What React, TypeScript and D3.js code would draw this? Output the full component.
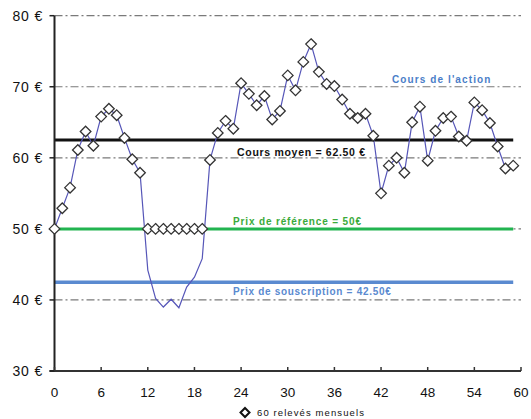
import React from "react";
import * as d3 from "d3";

// Cours de l'action (ligne)
const coursAction: number[] = [
  50, 52.9, 55.8, 61.1, 63.7, 61.7, 65.8, 66.9, 66.0, 62.8,
  59.8, 57.9, 44.2, 40.2, 39.0, 40.1, 38.9, 41.8, 43.2, 45.8,
  59.7, 63.5, 65.2, 64.1, 70.5, 69.0, 67.4, 68.7, 65.4, 66.6,
  71.6, 69.5, 73.5, 76.0, 72.1, 70.4, 70.1, 68.2, 66.2, 65.6,
  66.2, 63.1, 55.0, 58.9, 60.0, 57.9, 65.0, 67.2, 59.6, 63.8,
  65.6, 65.8, 63.0, 62.4, 67.8, 66.7, 64.9, 61.6, 58.5, 58.9,
];
// 60 relevés mensuels (losanges)
const releves: number[] = [
  50, 52.9, 55.8, 61.1, 63.7, 61.7, 65.8, 66.9, 66.0, 62.8,
  59.8, 57.9, 50, 50, 50, 50, 50, 50, 50, 50,
  59.7, 63.5, 65.2, 64.1, 70.5, 69.0, 67.4, 68.7, 65.4, 66.6,
  71.6, 69.5, 73.5, 76.0, 72.1, 70.4, 70.1, 68.2, 66.2, 65.6,
  66.2, 63.1, 55.0, 58.9, 60.0, 57.9, 65.0, 67.2, 59.6, 63.8,
  65.6, 65.8, 63.0, 62.4, 67.8, 66.7, 64.9, 61.6, 58.5, 58.9,
];
const coursMoyen = 62.5;
const prixReference = 50;
const prixSouscription = 42.5;
const yTicks = [30, 40, 50, 60, 70, 80];
const xTicks = [0, 6, 12, 18, 24, 30, 36, 42, 48, 54, 60];
const gridValues = [40, 50, 60, 70, 80];

const W = 531;
const H = 419;

export default function App() {
  const x = d3.scaleLinear().domain([0, 60]).range([54.5, 521]);
  const y = d3.scaleLinear().domain([30, 80]).range([371, 15.7]);
  const line = d3
    .line<number>()
    .x((_, i) => x(i))
    .y((d) => y(d));
  const lastIdx = coursAction.length - 1;
  const diamond = (cx: number, cy: number, r: number) =>
    `M${cx},${cy - r}L${cx + r},${cy}L${cx},${cy + r}L${cx - r},${cy}Z`;
  const font = "Arial, 'Liberation Sans', sans-serif";

  return (
    <svg
      width={W}
      height={H}
      style={{ position: "absolute", left: 0, top: 0, background: "#fff" }}
      fontFamily={font}
    >
      {/* grid */}
      {gridValues.map((v) => (
        <line
          key={"g" + v}
          x1={x(0)}
          x2={x(60)}
          y1={y(v)}
          y2={y(v)}
          stroke="#7a7a7a"
          strokeWidth={1.2}
          strokeDasharray="8,3,2,3"
        />
      ))}
      {/* reference lines */}
      <line x1={x(0)} x2={x(lastIdx)} y1={y(prixSouscription)} y2={y(prixSouscription)} stroke="#5a8ad0" strokeWidth={3.5} />
      <line x1={x(0)} x2={x(lastIdx)} y1={y(prixReference)} y2={y(prixReference)} stroke="#22b450" strokeWidth={3} />
      <line x1={x(0)} x2={x(lastIdx)} y1={y(coursMoyen)} y2={y(coursMoyen)} stroke="#111" strokeWidth={3} />

      {/* axes */}
      <line x1={x(0)} x2={x(0)} y1={y(80)} y2={y(30)} stroke="#222" strokeWidth={2} />
      <line x1={x(0) - 5} x2={x(60)} y1={y(30)} y2={y(30)} stroke="#333" strokeWidth={2} />
      {yTicks.map((v) => (
        <g key={"yt" + v}>
          <line x1={x(0) - 5} x2={x(0)} y1={y(v)} y2={y(v)} stroke="#222" strokeWidth={1.5} />
          <text x={43} y={y(v) + 5} textAnchor="end" fontSize={14} letterSpacing={0.8} fill="#111">
            {v} €
          </text>
        </g>
      ))}
      {xTicks.map((v) => (
        <g key={"xt" + v}>
          <line x1={x(v)} x2={x(v)} y1={y(30)} y2={y(30) - 4} stroke="#333" strokeWidth={1.5} />
          <text x={x(v)} y={396.5} textAnchor="middle" fontSize={13.5} fill="#111">
            {v}
          </text>
        </g>
      ))}

      {/* series line */}
      <path d={line(coursAction) || ""} fill="none" stroke="#5656b8" strokeWidth={1.2} />
      {/* diamonds */}
      {releves.map((v, i) => (
        <path key={"d" + i} d={diamond(x(i), y(v), 5.3)} fill="#fff" stroke="#333" strokeWidth={1.3} />
      ))}

      {/* annotations */}
      <text x={392} y={83} fontSize={10} fontWeight="bold" letterSpacing={1.1} fill="#4a7ec8">
        Cours de l'action
      </text>
      <text x={237} y={155.5} fontSize={10.5} fontWeight="bold" letterSpacing={0.7} fill="#111">
        Cours moyen = 62.50 €
      </text>
      <text x={233} y={225} fontSize={10} fontWeight="bold" letterSpacing={0.85} fill="#3aaa3a">
        Prix de référence = 50€
      </text>
      <text x={233} y={294.5} fontSize={10} fontWeight="bold" letterSpacing={0.7} fill="#5a8ad0">
        Prix de souscription = 42.50€
      </text>

      {/* legend */}
      <path d={diamond(245, 412.5, 4.5)} fill="#fff" stroke="#111" strokeWidth={2} />
      <text x={257} y={416} fontSize={9.5} letterSpacing={1.1} fill="#111">
        60 relevés mensuels
      </text>
    </svg>
  );
}
